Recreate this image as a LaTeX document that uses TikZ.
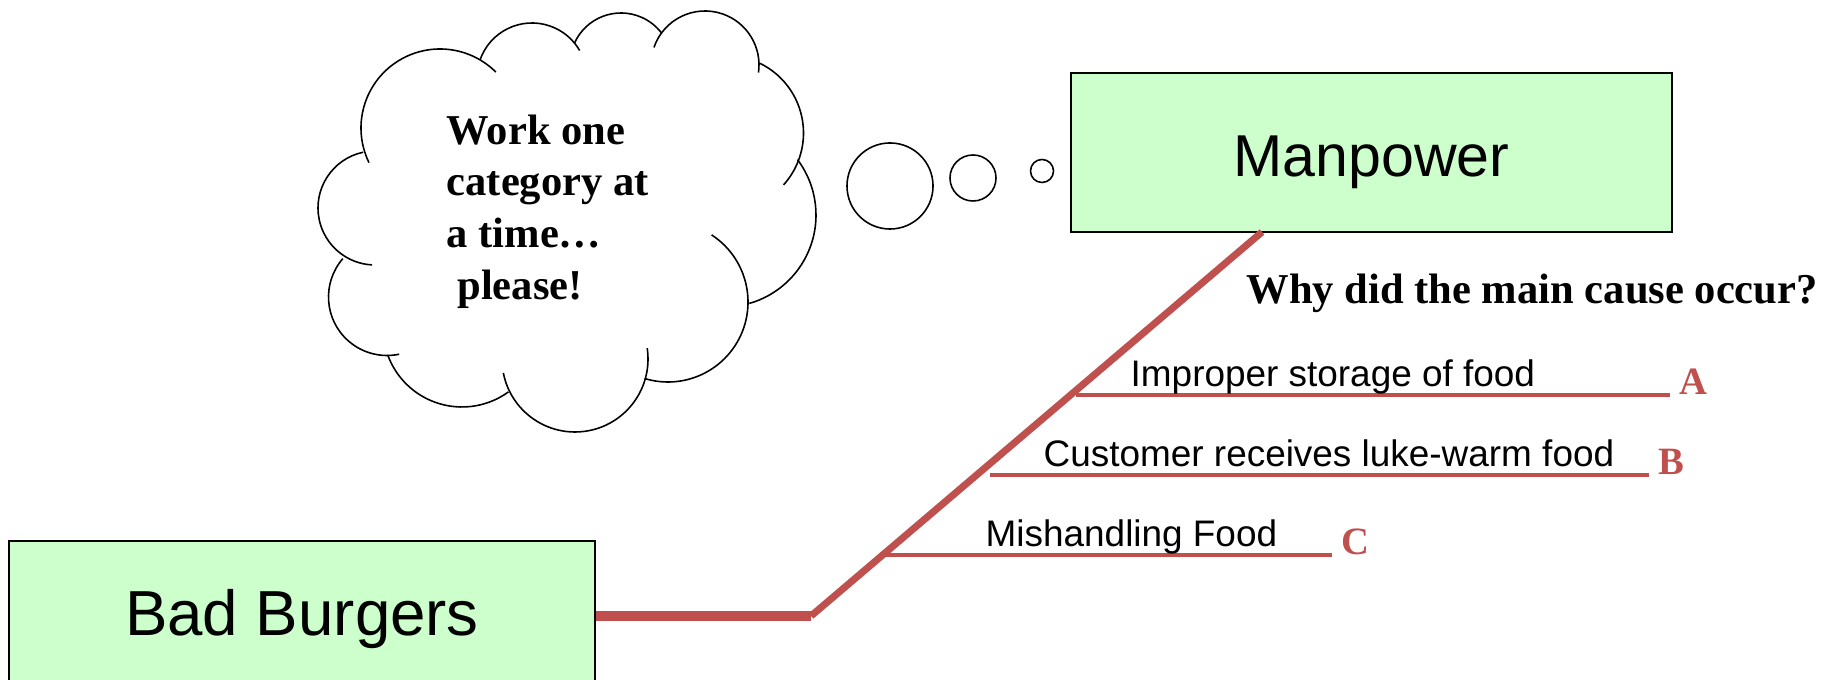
\documentclass[tikz,border=0pt]{standalone}
\usepackage{fontspec}
\setmainfont{Liberation Serif}
\newfontfamily\arial{Liberation Sans}
\definecolor{fishred}{RGB}{192, 80, 77}
\definecolor{mint}{RGB}{204, 255, 204}
\tikzset{
  box/.style={draw=black, fill=mint, line width=0.5pt, inner sep=0, text depth=0pt},
  spine/.style={draw=fishred, line width=2pt},
  rib/.style={draw=fishred, line width=1.3pt},
  causetext/.style={font=\arial\fontsize{10.5}{12}\selectfont, inner sep=0},
  letter/.style={font=\bfseries\fontsize{11}{13}\selectfont, text=fishred, inner sep=0},
  puff/.style={draw, line width=0.45pt},
  bubble/.style={circle, draw, line width=0.45pt, inner sep=0},
}
\newcommand{\cause}[7]{
  \coordinate (#1s) at (#2, #4);
  \coordinate (#1e) at (#3, #4);
  \draw[rib] (#1s) -- (#1e);
  \node[causetext, anchor=base west] (#1t) at (#5, #4 - 8) {#6};
  \node[letter, anchor=base west] (#1l) at ([xshift=0.09cm]#1e) {#7};
}
\newcommand{\puff}[5]{
  \draw[puff] ([shift={(#4:#3)}]#1, #2) arc[start angle=#4, end angle=#5, radius=#3];
}

\begin{document}
\begin{tikzpicture}[x=0.01cm, y=-0.01cm]
  \useasboundingbox (0, 0) rectangle (1821, 680);

  % the two boxes
  \node[box, minimum width=6.01cm, minimum height=1.59cm, text height=0.47cm, font=\arial\fontsize{16.8}{20}\selectfont] (mp) at (1371.5, 152.5) {Manpower};
  \node[box, minimum width=5.86cm, minimum height=1.5cm, text height=0.39cm, font=\arial\fontsize{18.1}{21}\selectfont] (bb) at (302, 616) {Bad Burgers};

  % spine
  \coordinate (bend) at (811, 616);
  \coordinate (head) at (1262, 232);
  \draw[spine, line width=2.65pt] (bb.east) -- (bend);
  \draw[spine] (bend) -- (head);

  \node[anchor=base west, inner sep=0, font=\bfseries\fontsize{12.1}{14}\selectfont] (why) at (1246, 304) {Why did the main cause occur?};

  \cause{a}{1076}{1670}{395}{1130}{Improper storage of food}{A}
  \cause{b}{990}{1649}{475}{1043}{Customer receives luke-warm food}{B}
  \cause{c}{886}{1332}{555}{985}{Mishandling Food}{C}

  % thought cloud, puff by puff
  \puff{440}{128}{79}{154}{315}
  \puff{532}{78}{55}{199}{330}
  \puff{621}{64}{51}{204}{323}
  \puff{705}{65}{54}{199}{368}
  \puff{726}{133}{77.5}{296}{402}
  \puff{724}{215}{92}{323}{434}
  \puff{668}{302}{80}{-57}{107}
  \puff{575}{359}{73}{-8.5}{169}
  \puff{462}{328}{79}{54}{160}
  \puff{387}{297}{58.5}{221}{78}
  \puff{375}{208}{57}{258}{93}
  \node[anchor=north west, inner sep=0, align=left, font=\bfseries\fontsize{12.1}{14.7}\selectfont] (note) at (446, 114)
    {Work one\\category at\\a time…\\\hspace*{0.25em}please!};
  \node[bubble, minimum size=0.86cm] (b1) at (890, 186) {};
  \node[bubble, minimum size=0.46cm] (b2) at (973, 178) {};
  \node[bubble, minimum size=0.23cm] (b3) at (1042, 171) {};
\end{tikzpicture}
\end{document}
